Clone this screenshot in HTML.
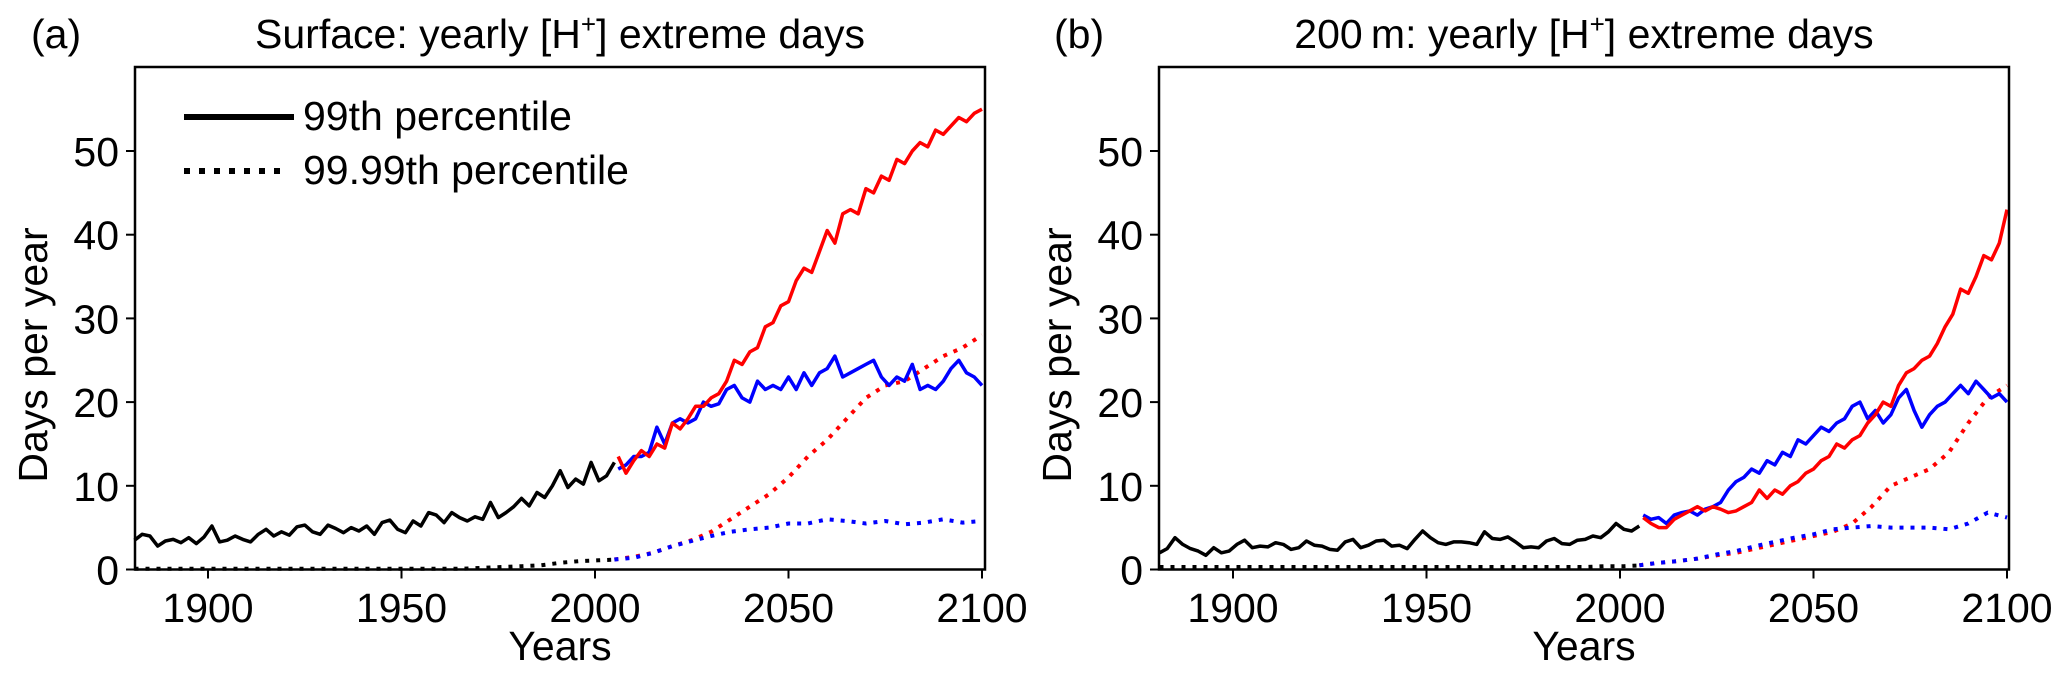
<!DOCTYPE html>
<html><head><meta charset="utf-8"><style>
html,body{margin:0;padding:0;background:#fff;}
svg{display:block;font-family:"Liberation Sans",Arial,sans-serif;}
</style></head><body>
<svg id="chart" width="2067" height="679" viewBox="0 0 2067 679" xmlns="http://www.w3.org/2000/svg"></svg>
<script>
// ---- data ----
const aBlackSolid = [3.5,4.2,4.0,2.8,3.4,3.6,3.2,3.8,3.1,3.9,5.2,3.3,3.5,4.0,3.6,3.3,4.2,4.8,4.0,4.5,4.1,5.1,5.3,4.5,4.2,5.3,4.9,4.4,5.0,4.6,5.2,4.2,5.6,5.9,4.8,4.4,5.8,5.2,6.8,6.5,5.6,6.8,6.2,5.8,6.3,6.0,8.0,6.2,6.8,7.5,8.5,7.6,9.2,8.6,10.0,11.8,9.8,10.8,10.2,12.8,10.6,11.2,12.8];
const aRedSolid = [13.5,11.5,13.0,14.2,13.5,15.0,14.5,17.5,16.8,18.0,19.5,19.5,20.5,21.0,22.5,25.0,24.5,26.0,26.5,29.0,29.5,31.5,32.0,34.5,36.0,35.5,38.0,40.5,39.0,42.5,43.0,42.5,45.5,45.0,47.0,46.5,49.0,48.5,50.0,51.0,50.5,52.5,52.0,53.0,54.0,53.5,54.5,55.0];
const aBlueSolid = [12.0,12.5,13.5,13.5,14.0,17.0,15.0,17.5,18.0,17.5,18.0,20.0,19.5,19.8,21.5,22.0,20.5,20.0,22.5,21.5,22.0,21.5,23.0,21.5,23.5,22.0,23.5,24.0,25.5,23.0,23.5,24.0,24.5,25.0,23.0,22.0,23.0,22.5,24.5,21.5,22.0,21.5,22.5,24.0,25.0,23.5,23.0,22.0];
const aBlackDotted = [0.1,0.1,0.1,0.1,0.1,0.1,0.1,0.1,0.1,0.1,0.1,0.1,0.1,0.1,0.1,0.1,0.1,0.1,0.2,0.3,0.4,0.5,0.8,1.0,1.1,1.2];
const aRedDotted = [1.2,1.5,2.0,2.8,3.5,4.5,6.0,7.5,9.0,11.0,13.5,15.5,18.0,20.5,22.0,22.5,24.0,25.5,26.5,28.0];
const aBlueDotted = [1.2,1.4,2.0,2.8,3.4,4.0,4.5,4.8,5.0,5.5,5.5,6.0,5.8,5.5,5.8,5.4,5.6,6.0,5.6,5.8];

const bBlackSolid = [2.0,2.5,3.8,3.0,2.5,2.2,1.7,2.6,2.0,2.2,3.0,3.5,2.6,2.8,2.7,3.2,3.0,2.4,2.6,3.4,2.9,2.8,2.4,2.3,3.3,3.6,2.6,2.9,3.4,3.5,2.8,2.9,2.5,3.6,4.6,3.8,3.2,3.0,3.3,3.3,3.2,3.0,4.5,3.7,3.6,3.9,3.3,2.6,2.7,2.6,3.4,3.7,3.1,3.0,3.5,3.6,4.0,3.8,4.5,5.5,4.8,4.6,5.2];
const bRedSolid = [6.2,5.5,5.0,5.0,6.0,6.5,7.0,7.5,7.0,7.5,7.2,6.8,7.0,7.5,8.0,9.5,8.5,9.5,9.0,10.0,10.5,11.5,12.0,13.0,13.5,15.0,14.5,15.5,16.0,17.5,18.5,20.0,19.5,22.0,23.5,24.0,25.0,25.5,27.0,29.0,30.5,33.5,33.0,35.0,37.5,37.0,39.0,43.0];
const bBlueSolid = [6.5,6.0,6.2,5.5,6.5,6.8,7.0,6.5,7.2,7.5,8.0,9.5,10.5,11.0,12.0,11.5,13.0,12.5,14.0,13.5,15.5,15.0,16.0,17.0,16.5,17.5,18.0,19.5,20.0,18.0,19.0,17.5,18.5,20.5,21.5,19.0,17.0,18.5,19.5,20.0,21.0,22.0,21.0,22.5,21.5,20.5,21.0,20.0];
const bBlackDotted = [0.3,0.3,0.3,0.3,0.3,0.3,0.3,0.3,0.3,0.3,0.3,0.3,0.3,0.3,0.3,0.3,0.3,0.3,0.3,0.3,0.3,0.3,0.3,0.4,0.4,0.5];
const bRedDotted = [0.5,0.8,1.0,1.3,1.7,2.0,2.5,3.0,3.5,4.0,4.5,5.5,7.5,10.0,11.0,12.0,14.0,17.5,20.5,22.0];
const bBlueDotted = [0.5,0.8,1.0,1.3,1.8,2.2,2.8,3.3,3.8,4.2,4.8,5.0,5.2,5.0,5.0,5.0,4.8,5.5,6.8,6.2];

const xTicks = [1900,1950,2000,2050,2100];
const yTicks = [0,10,20,30,40,50];

// ---- drawing ----
const NS = "http://www.w3.org/2000/svg";
const svg = document.getElementById('chart');
function mk(tag, attrs, parent){
  const e = document.createElementNS(NS, tag);
  for (const k in attrs) e.setAttribute(k, attrs[k]);
  (parent||svg).appendChild(e);
  return e;
}
const FS = 41;
function panel(p){
  const g = mk('g', {});
  
  
  const X0 = p.left, X1 = p.right, Y0 = 569.5, Y1 = 67;
  const sx = y => p.x1900 + (y - 1900) * 3.87;
  const sy = v => Y0 - v * 8.37;
  xTicks.forEach(t => {
    const l = mk('line', {x1:sx(t), x2:sx(t), y1:Y0, y2:Y0+9, stroke:'#000','stroke-width':2}, g);
    
    
    const tx = mk('text', {x:sx(t), y:622, 'font-size':FS, 'text-anchor':'middle'}, g);
    tx.textContent = t;
    
    
  });
  yTicks.forEach(t => {
    const l = mk('line', {x1:X0-9, x2:X0, y1:sy(t), y2:sy(t), stroke:'#000','stroke-width':2}, g);
    
    
    const tx = mk('text', {x:X0-16, y:sy(t)+15, 'font-size':FS, 'text-anchor':'end'}, g);
    tx.textContent = t;
    
    
  });
  function series(vals, start, step, color, dotted, nm){
    const pts = vals.map((v,i) => sx(start + i*step).toFixed(1) + ',' + sy(v).toFixed(1)).join(' ');
    const a = {points:pts, fill:'none', stroke:color, 'stroke-width':3.5, 'stroke-linejoin':'round'};
    if (dotted) { a['stroke-dasharray'] = '4 7'; a['stroke-width'] = 4; }
    const pl = mk('polyline', a, g);
    
    
  }
  series(p.bd, 1881, 5, '#000', true, 'historical-99.99-line');
  series(p.rd, 2005, 5, '#ff0000', true, 'high-emission-99.99-line');
  series(p.ud, 2005, 5, '#0000ff', true, 'low-emission-99.99-line');
  series(p.bs, 1881, 2, '#000', false, 'historical-99-line');
  series(p.us, 2006, 2, '#0000ff', false, 'low-emission-99-line');
  series(p.rs, 2006, 2, '#ff0000', false, 'high-emission-99-line');
  const fr = mk('rect', {x:X0, y:Y1, width:X1-X0, height:Y0-Y1, fill:'none', stroke:'#000','stroke-width':2.5}, g);
  
  
  const yl = mk('text', {x:0, y:0, 'font-size':FS, 'text-anchor':'middle', transform:'translate('+(p.left-88)+',355) rotate(-90)'}, g);
  yl.textContent = 'Days per year';
  
  
  const xl = mk('text', {x:(X0+X1)/2, y:660, 'font-size':FS, 'text-anchor':'middle'}, g);
  xl.textContent = 'Years';
  
  
  const lt = mk('text', {x:p.letterX, y:48, 'font-size':FS}, g);
  lt.textContent = p.letter;
  
  
  const tt = mk('text', {x:(X0+X1)/2, y:48, 'font-size':FS, 'text-anchor':'middle'}, g);
  tt.innerHTML = p.title;
  
  
  return g;
}
panel({name:'panel-a-surface', left:135, right:985, x1900:208, letter:'(a)', letterX:31,
  title:'Surface: yearly [H<tspan dy="-15" font-size="26">+</tspan><tspan dy="15">] extreme days</tspan>',
  bs:aBlackSolid, rs:aRedSolid, us:aBlueSolid, bd:aBlackDotted, rd:aRedDotted, ud:aBlueDotted});
panel({name:'panel-b-200m', left:1159, right:2009, x1900:1233, letter:'(b)', letterX:1054,
  title:'200\u2009m: yearly [H<tspan dy="-15" font-size="26">+</tspan><tspan dy="15">] extreme days</tspan>',
  bs:bBlackSolid, rs:bRedSolid, us:bBlueSolid, bd:bBlackDotted, rd:bRedDotted, ud:bBlueDotted});

const lg = mk('g', {});


const l1 = mk('line', {x1:184, x2:294, y1:117, y2:117, stroke:'#000','stroke-width':6}, lg);


const t1 = mk('text', {x:303, y:130, 'font-size':FS}, lg);
t1.textContent = '99th percentile';


const l2 = mk('line', {x1:184, x2:288, y1:171, y2:171, stroke:'#000','stroke-width':6,'stroke-dasharray':'6 9'}, lg);


const t2 = mk('text', {x:303, y:184, 'font-size':FS}, lg);
t2.textContent = '99.99th percentile';


</script>
</body></html>
